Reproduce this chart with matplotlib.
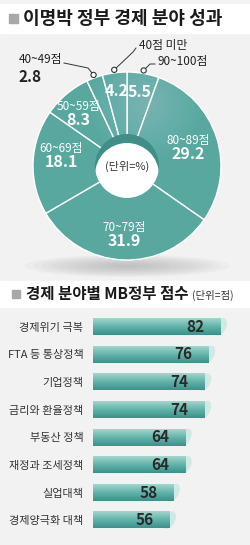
import numpy as np
import matplotlib
matplotlib.use("Agg")
import matplotlib.pyplot as plt
from matplotlib.patches import Circle, Ellipse, Rectangle
from matplotlib.colors import LinearSegmentedColormap

plt.rcParams['font.family'] = ['Noto Sans CJK KR', 'DejaVu Sans']

# ---- data ----
pie_labels = ['90~100점', '80~89점', '70~79점', '60~69점', '50~59점', '40~49점', '40점 미만']
pie_values = [5.5, 29.2, 31.9, 18.1, 8.3, 2.8, 4.2]

bar_labels = ['경제위기 극복', 'FTA 등 통상정책', '기업정책', '금리와 환율정책',
              '부동산 정책', '재정과 조세정책', '실업대책', '경제양극화 대책']
bar_values = [82, 76, 74, 74, 64, 64, 58, 56]

TEAL = '#58a8a0'
BG = '#f2f2f2'
W, H = 250, 545

fig = plt.figure(figsize=(W / 100, H / 100), dpi=100)
fig.patch.set_facecolor(BG)

# background axis in pixel coordinates (y measured from top)
bg = fig.add_axes([0, 0, 1, 1])
bg.set_xlim(0, W)
bg.set_ylim(H, 0)
bg.axis('off')

def py(y):
    return H - y

# title bands
bg.add_patch(Rectangle((0, 4), W, 29, color='white', zorder=0))
bg.add_patch(Rectangle((0, 281), W, 26, color='white', zorder=0))
bg.add_patch(Rectangle((9, 14), 9, 9, color='#a8a8a8', zorder=1))
bg.text(23, 18.5, '이명박 정부 경제 분야 성과', fontsize=13, fontweight='bold',
        color='#1a1a1a', va='center', ha='left')
bg.add_patch(Rectangle((12, 290), 8, 8, color='#a8a8a8', zorder=1))
bg.text(26, 294, '경제 분야별 MB정부 점수', fontsize=11.2, fontweight='bold',
        color='#1a1a1a', va='center', ha='left')
bg.text(192, 295, '(단위=점)', fontsize=7.5, color='#333333', va='center', ha='left')

# shadow under donut
for k in range(12):
    f = 1 - k / 12
    bg.add_patch(Ellipse((127, 266), 205 * f, 22 * f, color='#9a9a9a',
                         alpha=0.06, lw=0, zorder=1))

# ---- donut ----
cx, cy, R = 127, 166, 94
pie = fig.add_axes([0, 0, 1, 1])
pie.set_facecolor('none')
wedges, _ = pie.pie(pie_values, startangle=90, counterclock=False,
                    radius=R, center=(cx, py(cy)), colors=[TEAL] * len(pie_values),
                    wedgeprops=dict(edgecolor='white', linewidth=1))
pie.set_xlim(0, W)
pie.set_ylim(0, H)
pie.set_aspect('equal')
pie.axis('off')

# light radial glow near the top
for k in range(10):
    pie.add_patch(Circle((cx + 18, py(cy - 62)), 55 * (1 - k / 10), color='white',
                         alpha=0.025, lw=0, zorder=3))

# hole with inner wall
r_hole = 32
pie.add_patch(Circle((cx, py(cy)), r_hole, color='#3f8e87', lw=0, zorder=4))
inner = Circle((cx, py(cy + 9)), r_hole, color='white', lw=0, zorder=5)
pie.add_patch(inner)
inner.set_clip_path(Circle((cx, py(cy)), r_hole, transform=pie.transData))
pie.text(cx, py(cy), '(단위=%)', fontsize=8, color='#333333', ha='center', va='center', zorder=6)

inside = {0: 0.80, 1: 0.68, 2: 0.68, 3: 0.70, 4: 0.80, 6: 0.80}
nudge = {2: -4, 3: 9, 4: -4}   # vertical label nudges in pixels
for i, w in enumerate(wedges):
    mid = np.deg2rad((w.theta1 + w.theta2) / 2)
    if i in inside:
        rr = R * inside[i]
        x, y = cx + rr * np.cos(mid), py(cy) + rr * np.sin(mid) + nudge.get(i, 0)
        if i in (0, 6):
            pie.text(x, y, f'{pie_values[i]}', fontsize=11.5, fontweight='bold',
                     color='white', ha='center', va='center', zorder=6)
        else:
            pie.text(x, y + 6, pie_labels[i], fontsize=8.5, color='white',
                     ha='center', va='center', zorder=6)
            pie.text(x, y - 7.5, f'{pie_values[i]}', fontsize=11.5, fontweight='bold',
                     color='white', ha='center', va='center', zorder=6)

# leader lines for small slices
def mid_point(i, rr):
    w = wedges[i]
    m = np.deg2rad((w.theta1 + w.theta2) / 2)
    return cx + rr * np.cos(m), py(cy) + rr * np.sin(m)

ends = {5: [(88, py(68)), (64, py(63))],
        6: [(133, py(52)), (136, py(48))],
        0: [(150, py(64)), (155, py(64))]}
for i, pts in ends.items():
    x0, y0 = mid_point(i, R + 3)
    xs = [x0] + [p[0] for p in pts]
    ys = [y0] + [p[1] for p in pts]
    pie.plot(xs, ys, color='#333333', lw=0.7, zorder=6)
    pie.add_patch(Circle((x0, y0), 2.6, facecolor='white', edgecolor='#333333',
                         lw=0.8, zorder=7))

pie.text(62, py(60), pie_labels[5], fontsize=8.5, color='#222222', ha='right', va='center')
pie.text(30, py(77), f'{pie_values[5]}', fontsize=11, fontweight='bold',
         color='#222222', ha='center', va='center')
pie.text(139, py(46), pie_labels[6], fontsize=8.5, color='#222222', ha='left', va='center')
pie.text(157, py(62), pie_labels[0], fontsize=8.5, color='#222222', ha='left', va='center')

# ---- bars ----
x_left, x_right = 93, 245
y_top, y_bot = 313, 534
ax = fig.add_axes([x_left / W, (H - y_bot) / H, (x_right - x_left) / W, (y_bot - y_top) / H])
ax.set_facecolor('none')
ypos = np.arange(len(bar_values))
bars = ax.barh(ypos, bar_values, height=0.6, color=TEAL, lw=0)
xmin = 17
ax.set_xlim(xmin, xmin + (x_right - x_left) / 1.96)
ax.set_ylim(len(bar_values) - 0.5, -0.5)

cmap = LinearSegmentedColormap.from_list('g', ['#a3d6ce', '#62b3aa', '#3a928a'])
grad = np.linspace(0, 1, 64).reshape(-1, 1)
for b, v, yy in zip(bars, bar_values, ypos):
    im = ax.imshow(grad, extent=[xmin, v, yy + 0.3, yy - 0.3], aspect='auto',
                   cmap=cmap, zorder=2)
ax.set_xlim(xmin, xmin + (x_right - x_left) / 1.96)
ax.set_ylim(len(bar_values) - 0.5, -0.5)

for v, yy in zip(bar_values, ypos):
    ax.annotate(f'{v}', (v, yy), xytext=(-11.5, 0), textcoords='offset points',
                ha='right', va='center', fontsize=11, fontweight='bold',
                color='#2a2a2a', zorder=4)

ax.set_yticks(ypos)
ax.set_yticklabels(bar_labels, fontsize=8, color='#333333')
ax.tick_params(axis='y', length=0, pad=7)
ax.set_xticks([])
for s in ax.spines.values():
    s.set_visible(False)

# cylinder caps drawn in pixel space
fig.canvas.draw()
for v, yy in zip(bar_values, ypos):
    disp = ax.transData.transform((v, yy))
    px, pyy = bg.transData.inverted().transform(disp)
    bg.add_patch(Ellipse((px, pyy), 11, 19, angle=28, facecolor='#cfe9e4',
                         edgecolor='none', zorder=5))

fig.savefig('out.png', dpi=100, facecolor=BG)
